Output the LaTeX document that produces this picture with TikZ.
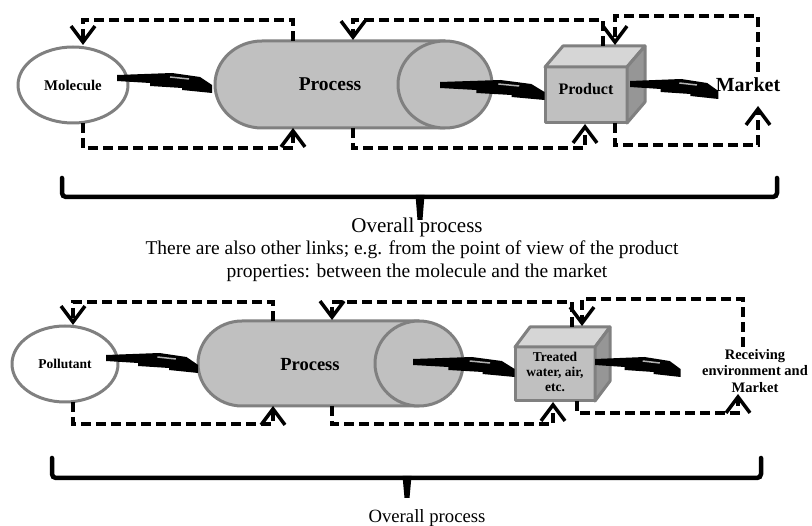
\documentclass[tikz,border=0pt]{standalone}
\usepackage{fontspec}
\setmainfont{Liberation Serif}
\usetikzlibrary{arrows.meta,shapes.geometric}
\definecolor{edgegray}{HTML}{808080}
\definecolor{bodygray}{HTML}{C0C0C0}
\definecolor{topgray}{HTML}{D6D6D6}
\definecolor{sidegray}{HTML}{969696}
\tikzset{
  shapeline/.style={draw=edgegray, line width=3, line join=round},
  molst/.style={ellipse, shapeline, fill=white, inner sep=0pt},
  dl/.style={dash pattern=on 10pt off 5pt, line width=3.5},
  arr/.style={-{Straight Barb[length=16pt,width=24pt,line width=3.5pt]}},
  bolt/.pic={
    \fill[black] (0,-3) -- (55,-5) -- (83,-1) -- (95,7) -- (95,15) -- (65,12) -- (65,10) -- (33,8) -- (33,5) -- (0,3) -- cycle;
    \draw[gray!60, line width=1.5] (53,-1) -- (72,1);
  },
  brace/.style={line width=4.5, rounded corners=4, line cap=round},
  lbl/.style={font=\bfseries, align=center, inner sep=0pt},
  txt/.style={align=center, inner sep=0pt}
}
\begin{document}
\begin{tikzpicture}[x=1pt, y=-1pt]
\useasboundingbox (0,0) rectangle (812,526);

% ---------------- TOP SECTION ----------------
\node[molst, minimum width=110pt, minimum height=76pt, font=\bfseries\fontsize{14.8}{16}\selectfont] (mol) at (73,85) {Molecule};

% process cylinder
\filldraw[shapeline, fill=bodygray] (262,128) arc[start angle=90, end angle=270, x radius=47, y radius=43.5] -- (445,41) -- (445,128) -- cycle;
\filldraw[shapeline, fill=bodygray] (445,84.5) ellipse[x radius=47, y radius=43.5];
\node[lbl, font=\bfseries\fontsize{19.5}{22}\selectfont] (proc) at (330,84) {Process};

% product cube
\filldraw[shapeline, fill=bodygray] (545,67) rectangle (627,123);
\filldraw[shapeline, fill=topgray] (545,67) -- (563,46) -- (645,46) -- (627,67) -- cycle;
\filldraw[shapeline, fill=sidegray] (627,67) -- (645,46) -- (645,102) -- (627,123) -- cycle;
\node[lbl, font=\bfseries\fontsize{16}{18}\selectfont] (prod) at (586,89) {Product};

\node[lbl, font=\bfseries\fontsize{20}{22}\selectfont] (mkt) at (748,85) {Market};

% bolts
\pic at (117,78) {bolt};
\pic[xscale=1.1] at (440,85) {bolt};
\pic[xscale=0.93] at (630,84) {bolt};

% connection points
\coordinate (procTopL) at (293,41);
\coordinate (procBotL) at (293,128);
\coordinate (molTop) at (83,45);
\coordinate (molBot) at (83,123);
\coordinate (procTopR) at (353,40);
\coordinate (procBotR) at (353,128);
\coordinate (prodTopL) at (603,46);
\coordinate (prodTopR) at (615,45);
\coordinate (prodBotL) at (585,124);
\coordinate (prodBotR) at (615,123);
\coordinate (mktTop) at (758,72);
\coordinate (mktBot) at (758,106);

\draw[dl, arr] (procTopL) -- ++(0,-21) -| (molTop);
\draw[dl, arr] (molBot) -- ++(0,25) -| (procBotL);
\draw[dl, arr] (prodTopL) -- ++(0,-26) -| (procTopR);
\draw[dl, arr] (procBotR) -- ++(0,20) -| (prodBotL);
\draw[dl, arr] (mktTop) -- ++(0,-56) -| (prodTopR);
\draw[dl, arr] (prodBotR) -- ++(0,22) -| (mktBot);

% brace
\draw[brace] (62,178) -- (62,197) -- (777,197) -- (777,178);
\fill (415.5,195) -- (424.5,195) -- (422.5,220) -- (417.5,220) -- cycle;

\node[txt, font=\fontsize{21}{23}\selectfont] (ov1) at (417,227) {Overall process};
\node[txt, font=\fontsize{19.5}{23}\selectfont] (note1) at (412,250) {There are also other links; e.g. from the point of view of the product};
\node[txt, font=\fontsize{19.5}{23}\selectfont] (note2) at (417,273) {properties: between the molecule and the market};

% ---------------- BOTTOM SECTION ----------------
\node[molst, minimum width=106pt, minimum height=76pt, font=\bfseries\fontsize{13.5}{15}\selectfont] (pol) at (65,364) {Pollutant};

\filldraw[shapeline, fill=bodygray] (242,406) arc[start angle=90, end angle=270, x radius=44, y radius=42.5] -- (419,321) -- (419,406) -- cycle;
\filldraw[shapeline, fill=bodygray] (419,363.5) ellipse[x radius=44, y radius=42.5];
\node[lbl, font=\bfseries\fontsize{18.5}{21}\selectfont] (proc2) at (310,365) {Process};

\filldraw[shapeline, fill=bodygray] (515,347) rectangle (595,401);
\filldraw[shapeline, fill=topgray] (515,347) -- (530,327) -- (610,327) -- (595,347) -- cycle;
\filldraw[shapeline, fill=sidegray] (595,347) -- (610,327) -- (610,381) -- (595,401) -- cycle;
\node[lbl, font=\bfseries\fontsize{13.5}{15}\selectfont] (box) at (555,372) {Treated\\water, air,\\etc.};

\node[lbl, font=\bfseries\fontsize{14.5}{16.5}\selectfont] (rec) at (755,371) {Receiving\\environment and\\Market};

\pic[xscale=0.97] at (106,358) {bolt};
\pic[xscale=1.07] at (413,362) {bolt};
\pic[xscale=0.9] at (595,362) {bolt};

\coordinate (procTopL2) at (273,321);
\coordinate (procBotL2) at (273,406);
\coordinate (polTop) at (73,325);
\coordinate (polBot) at (73,402);
\coordinate (procTopR2) at (332,320);
\coordinate (procBotR2) at (332,406);
\coordinate (boxTopL) at (572,327);
\coordinate (boxTopR) at (582,326);
\coordinate (boxBotL) at (553,402);
\coordinate (boxBotR) at (577,401);
\coordinate (recTop) at (743,347);
\coordinate (recBot) at (738,394);

\draw[dl, arr] (procTopL2) -- ++(0,-19) -| (polTop);
\draw[dl, arr] (polBot) -- ++(0,22) -| (procBotL2);
\draw[dl, arr] (boxTopL) -- ++(0,-25) -| (procTopR2);
\draw[dl, arr] (procBotR2) -- ++(0,18) -| (boxBotL);
\draw[dl, arr] (recTop) -- ++(0,-48) -| (boxTopR);
\draw[dl, arr] (boxBotR) -- ++(0,12) -| (recBot);

\draw[brace] (52,458) -- (52,478) -- (761,478) -- (761,458);
\fill (402.5,476) -- (411.5,476) -- (409.5,498) -- (404.5,498) -- cycle;

\node[txt, font=\fontsize{18.7}{21}\selectfont] (ov2) at (427,518) {Overall process};
\end{tikzpicture}
\end{document}
